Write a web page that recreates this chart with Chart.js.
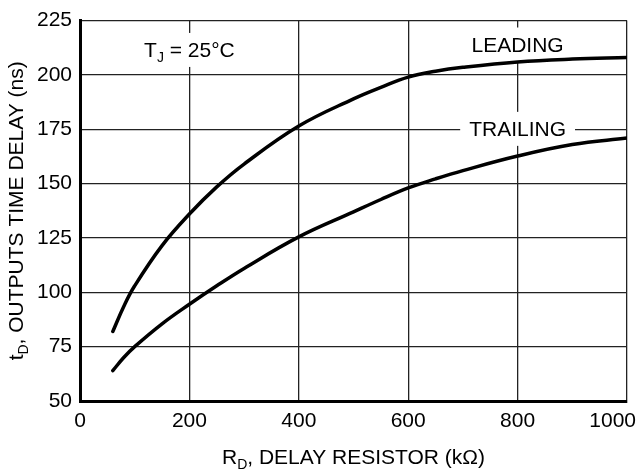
<!DOCTYPE html>
<html>
<head>
<meta charset="utf-8">
<script src="https://cdn.jsdelivr.net/npm/chart.js@4.4.0/dist/chart.umd.min.js"></script>
<style>
  html, body { margin: 0; padding: 0; background: #fff; }
  #wrap { width: 640px; height: 470px; }
</style>
</head>
<body>
<div id="wrap"><canvas id="delay"></canvas></div>
<script>
let resistance = [60, 80, 100, 150, 200, 250, 300, 400, 500, 550, 600, 650, 700, 800, 900, 1000];
let leadingDelay = [82, 93.5, 103, 121.5, 136, 148.5, 159, 176.5, 189, 194.3, 199, 201.7, 203.5, 206, 207.3, 208];
let trailingDelay = [64, 70, 75, 85.5, 94.5, 103, 111, 125.5, 137, 142.7, 148, 152.2, 156, 162.7, 168, 171];

let xRange = [0, 1000, 200];
let yRange = [50, 225, 25];

// text labels inside the plot: [parts, x value, y value]
let notes = [
    [[['T'], ['J', true], [' = 25°C']], 200, 211.5],
    [[['LEADING']], 800, 214],
    [[['TRAILING']], 800, 175.2]
];

const FONT = '"Liberation Sans", Arial, Helvetica, sans-serif';
const SIZE = 21;
const SUB = 14;

function partsWidth(ctx, parts) {
    let w = 0;
    parts.forEach(p => {
        ctx.font = (p[1] ? SUB : SIZE) + 'px ' + FONT;
        w += ctx.measureText(p[0]).width;
    });
    return w;
}

// draws text with subscripts, x is the left edge, y the baseline
function drawParts(ctx, parts, x, y) {
    parts.forEach(p => {
        ctx.font = (p[1] ? SUB : SIZE) + 'px ' + FONT;
        ctx.fillText(p[0], x, p[1] ? y + 5 : y);
        x += ctx.measureText(p[0]).width;
    });
}

const extras = {
    id: 'extras',
    beforeDatasetsDraw(chart) {
        const ctx = chart.ctx;
        const xs = chart.scales.x, ys = chart.scales.y;
        ctx.save();
        ctx.textAlign = 'left';
        ctx.textBaseline = 'alphabetic';
        notes.forEach(n => {
            const w = partsWidth(ctx, n[0]);
            const cx = xs.getPixelForValue(n[1]);
            const cy = ys.getPixelForValue(n[2]);
            ctx.fillStyle = '#fff';
            ctx.fillRect(cx - w / 2 - 9, cy - 17, w + 18, 34);
            ctx.fillStyle = '#000';
            drawParts(ctx, n[0], cx - w / 2, cy + 7.5);
        });
        ctx.restore();
    },
    afterDraw(chart) {
        const ctx = chart.ctx;
        const xs = chart.scales.x;
        const area = chart.chartArea;
        ctx.save();
        ctx.fillStyle = '#000';
        ctx.textBaseline = 'alphabetic';

        // x tick labels, kept inside the canvas at the right end
        ctx.font = SIZE + 'px ' + FONT;
        ctx.textAlign = 'center';
        xs.ticks.forEach(t => {
            const label = String(t.value);
            const w = ctx.measureText(label).width;
            let px = xs.getPixelForValue(t.value);
            px = Math.min(px, chart.width - 4 - w / 2);
            ctx.fillText(label, px, area.bottom + 26);
        });

        // x title
        ctx.textAlign = 'left';
        const xTitle = [['R'], ['D', true], [', DELAY RESISTOR (kΩ)']];
        const xw = partsWidth(ctx, xTitle);
        drawParts(ctx, xTitle, (area.left + area.right) / 2 - xw / 2, 464);

        // y title, rotated
        const yTitle = [['t'], ['D', true], [', OUTPUTS TIME DELAY (ns)']];
        const yw = partsWidth(ctx, yTitle);
        ctx.translate(23, (area.top + area.bottom) / 2);
        ctx.rotate(-Math.PI / 2);
        drawParts(ctx, yTitle, -yw / 2, 0);
        ctx.restore();
    }
};

const dc = document.getElementById('delay').getContext('2d');
const delayChart = new Chart(dc, {
    type: 'line',
    data: {
        datasets: [
            {
                label: 'LEADING',
                data: resistance.map((r, i) => ({ x: r, y: leadingDelay[i] })),
                borderColor: '#000',
                borderWidth: 3.5,
                borderCapStyle: 'round',
                borderJoinStyle: 'round',
                tension: 0.4,
                pointRadius: 0,
                fill: false
            },
            {
                label: 'TRAILING',
                data: resistance.map((r, i) => ({ x: r, y: trailingDelay[i] })),
                borderColor: '#000',
                borderWidth: 3.5,
                borderCapStyle: 'round',
                borderJoinStyle: 'round',
                tension: 0.4,
                pointRadius: 0,
                fill: false
            }
        ]
    },
    options: {
        responsive: true,
        maintainAspectRatio: false,
        animation: false,
        layout: {
            padding: { left: 0, right: 13, top: 16, bottom: 0 }
        },
        scales: {
            x: {
                type: 'linear',
                min: xRange[0],
                max: xRange[1],
                ticks: { stepSize: xRange[2], display: false },
                grid: { color: '#222', lineWidth: 1.3, drawTicks: false },
                border: { color: '#000', width: 3 },
                afterFit: s => { s.height = 69; }
            },
            y: {
                min: yRange[0],
                max: yRange[1],
                ticks: {
                    stepSize: yRange[2],
                    padding: 8,
                    color: '#000',
                    font: { family: FONT, size: SIZE }
                },
                grid: { color: '#222', lineWidth: 1.3, drawTicks: false },
                border: { color: '#000', width: 3 },
                afterFit: s => { s.width = 80; }
            }
        },
        plugins: {
            legend: { display: false },
            tooltip: { enabled: false }
        }
    },
    plugins: [extras]
});
</script>
</body>
</html>
